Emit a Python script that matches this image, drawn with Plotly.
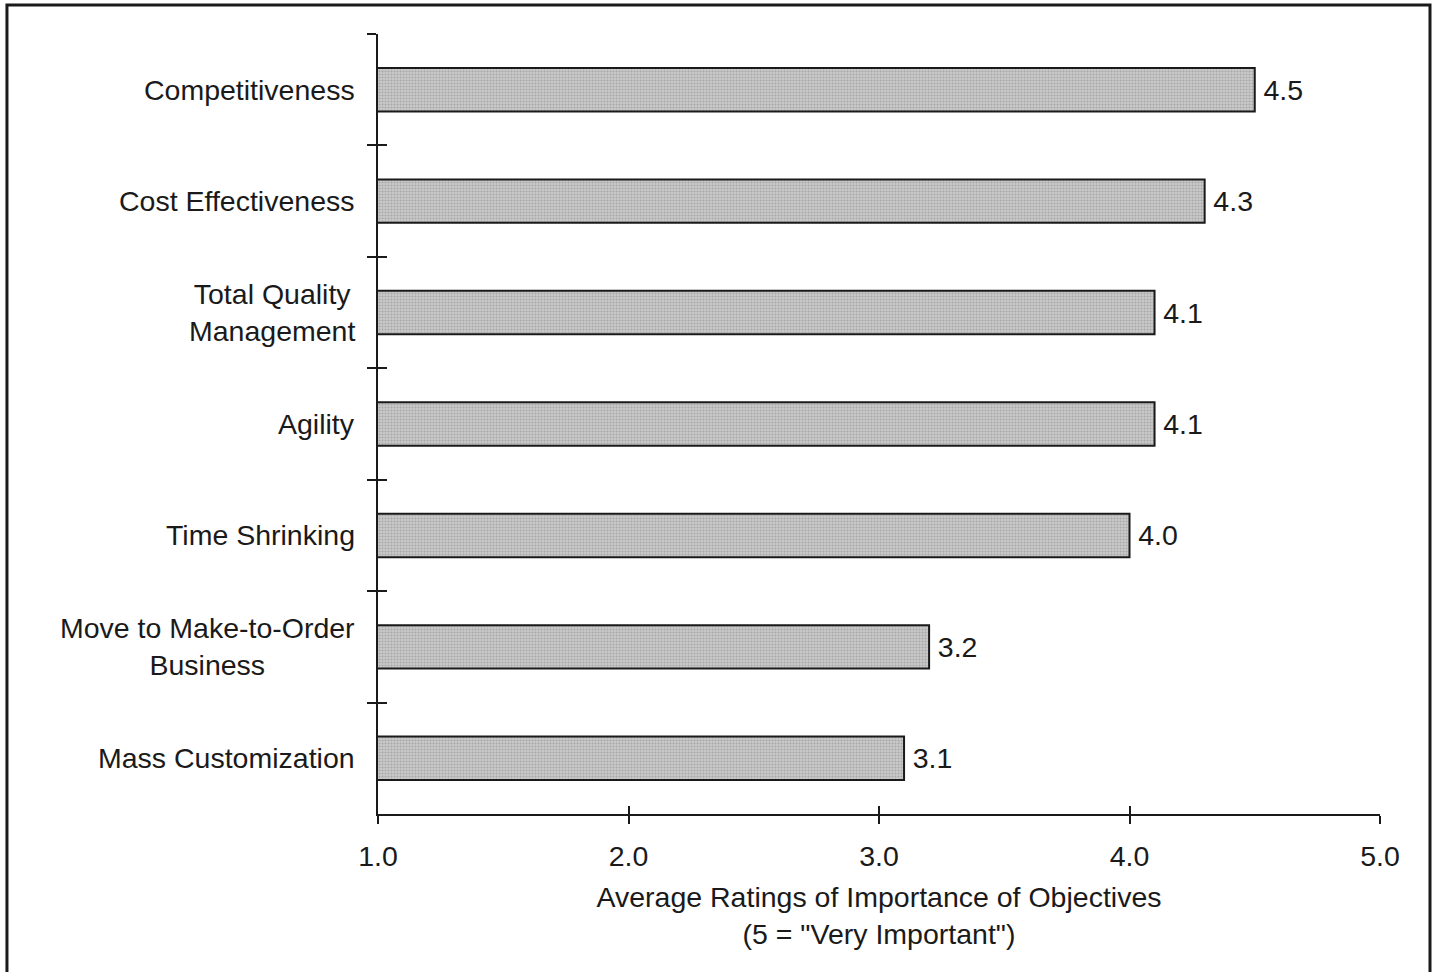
import plotly.graph_objects as go

categories = ["Competitiveness", "Cost Effectiveness", "Total Quality<br>Management",
              "Agility", "Time Shrinking", "Move to Make-to-Order<br>Business",
              "Mass Customization"]
values = [4.5, 4.3, 4.1, 4.1, 4.0, 3.2, 3.1]
value_labels = ["4.5", "4.3", "4.1", "4.1", "4.0", "3.2", "3.1"]
x_ticks = [1.0, 2.0, 3.0, 4.0, 5.0]
x_tick_labels = ["1.0", "2.0", "3.0", "4.0", "5.0"]
x_title = "Average Ratings of Importance of Objectives<br>(5 = \"Very Important\")"

FONT = "Liberation Sans, Arial, sans-serif"
FS = 28.5
INK = "#1a1a1a"

fig = go.Figure()
fig.add_trace(go.Bar(
    x=values, y=categories, orientation="h", width=0.39,
    marker=dict(color="#c6c6c6", line=dict(color=INK, width=2),
                pattern=dict(shape=".", fgcolor="#868686", bgcolor="#cacaca",
                             size=3, solidity=0.4)),
    text=["\u2009" + t for t in value_labels], textposition="outside",
    textfont=dict(family=FONT, size=FS, color=INK),
    cliponaxis=False, hoverinfo="x+y",
))
# invisible companion trace so the overlay axes (inner half of crossing ticks) render
fig.add_trace(go.Scatter(x=values, y=categories, xaxis="x2", yaxis="y2",
                         mode="markers", marker=dict(opacity=0), hoverinfo="skip",
                         showlegend=False))

common_x = dict(range=[1, 5], tickvals=x_ticks, showgrid=False, zeroline=False,
                showline=True, linecolor=INK, linewidth=2, tickcolor=INK,
                tickwidth=2)
common_y = dict(type="category", categoryorder="array", categoryarray=categories,
                range=[len(categories) - 0.5, -0.5], tickson="boundaries",
                showgrid=False, zeroline=False, showline=True, linecolor=INK,
                linewidth=2, tickcolor=INK, tickwidth=2)

annotations = [dict(text=c, x=0, xref="paper", y=c, yref="y", xanchor="right",
                    xshift=-21, align="center", showarrow=False,
                    font=dict(family=FONT, size=FS, color=INK)) for c in categories]

fig.update_layout(
    width=1433, height=972,
    margin=dict(l=378, r=53, t=34, b=158),
    paper_bgcolor="white", plot_bgcolor="white",
    showlegend=False,
    font=dict(family=FONT, size=FS, color=INK),
    xaxis=dict(**common_x, ticks="outside", ticklen=8, ticktext=x_tick_labels,
               tickfont=dict(family=FONT, size=FS, color=INK),
               ticklabelstandoff=8,
               title=dict(text=x_title, standoff=16,
                          font=dict(family=FONT, size=FS, color=INK))),
    xaxis2=dict(**common_x, ticks="inside", ticklen=8, overlaying="x", anchor="y2",
                showticklabels=False, matches="x"),
    yaxis=dict(**common_y, ticks="outside", ticklen=9, showticklabels=False),
    yaxis2=dict(**common_y, ticks="inside", ticklen=9, overlaying="y", anchor="x2",
                showticklabels=False, matches="y"),
    annotations=annotations,
    shapes=[dict(type="rect", xref="paper", yref="paper",
                 x0=-0.3703, x1=1.0499, y0=-0.25, y1=1.0372,
                 line=dict(color=INK, width=3), layer="above")],
)
fig.write_html("out.html")
